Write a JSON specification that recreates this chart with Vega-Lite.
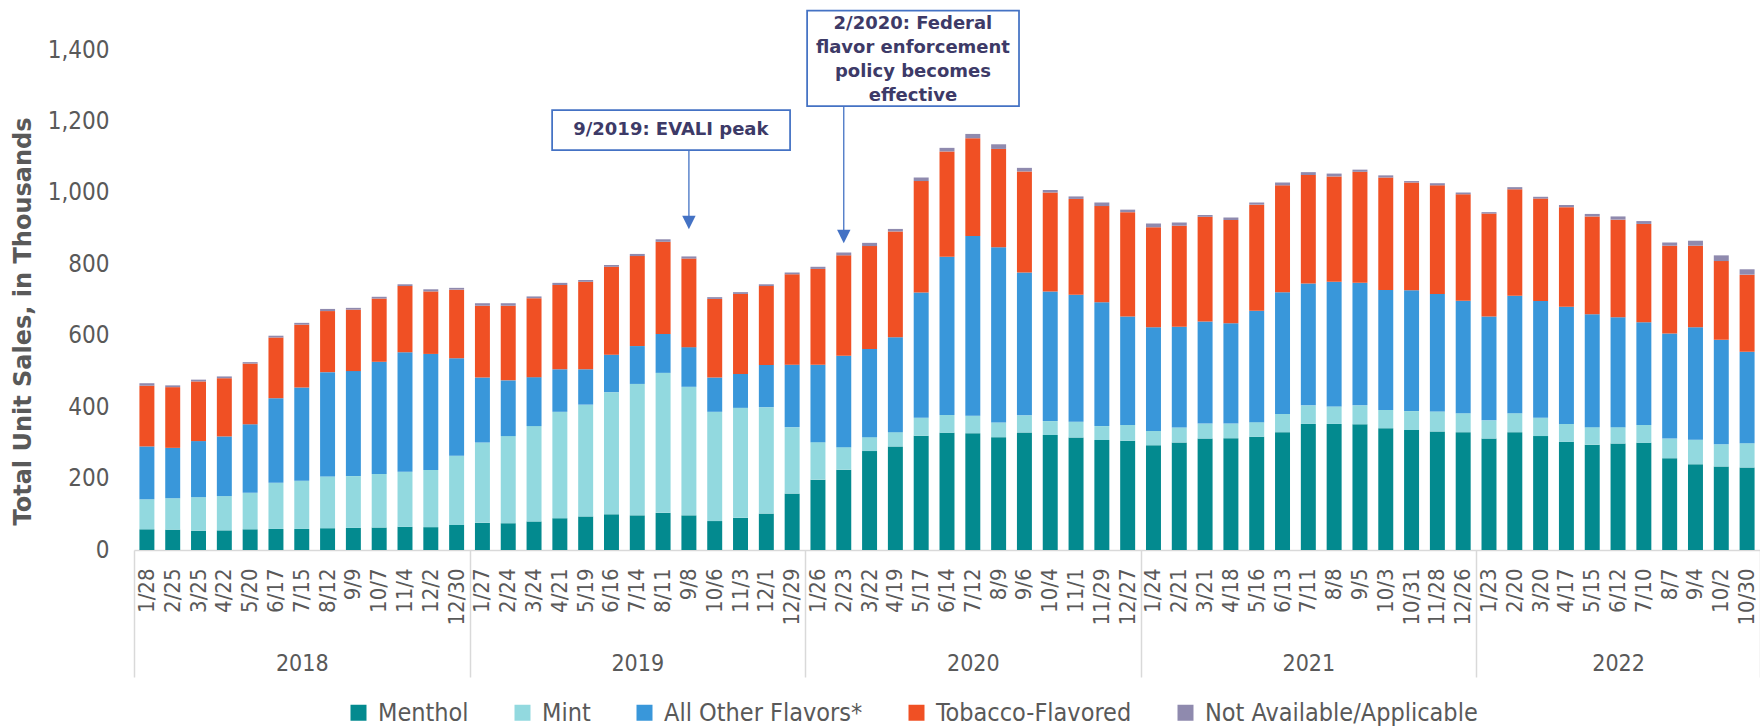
{
  "$schema": "https://vega.github.io/schema/vega-lite/v6.json",
  "width": 1626,
  "height": 500,
  "autosize": {"type": "none"},
  "padding": {"left": 134, "top": 50, "right": 0, "bottom": 178},
  "background": "white",
  "config": {"view": {"stroke": null}, "font": "DejaVu Sans Condensed", "axis": {"grid": false}},
  "datasets": {
    "sales": [
      {"date":"2018-01-28","menthol":58,"mint":84,"other":148,"tobacco":170,"na":7},
      {"date":"2018-02-25","menthol":57,"mint":88,"other":141,"tobacco":170,"na":5},
      {"date":"2018-03-25","menthol":54,"mint":94,"other":157,"tobacco":167,"na":5},
      {"date":"2018-04-22","menthol":55,"mint":96,"other":167,"tobacco":163,"na":5},
      {"date":"2018-05-20","menthol":58,"mint":102,"other":192,"tobacco":170,"na":4},
      {"date":"2018-06-17","menthol":59,"mint":129,"other":237,"tobacco":170,"na":5},
      {"date":"2018-07-15","menthol":59,"mint":135,"other":261,"tobacco":176,"na":5},
      {"date":"2018-08-12","menthol":61,"mint":145,"other":292,"tobacco":171,"na":6},
      {"date":"2018-09-09","menthol":62,"mint":145,"other":294,"tobacco":172,"na":5},
      {"date":"2018-10-07","menthol":63,"mint":150,"other":314,"tobacco":177,"na":5},
      {"date":"2018-11-04","menthol":65,"mint":154,"other":335,"tobacco":185,"na":5},
      {"date":"2018-12-02","menthol":64,"mint":160,"other":325,"tobacco":175,"na":6},
      {"date":"2018-12-30","menthol":70,"mint":194,"other":273,"tobacco":192,"na":5},
      {"date":"2019-01-27","menthol":76,"mint":225,"other":182,"tobacco":201,"na":7},
      {"date":"2019-02-24","menthol":75,"mint":244,"other":156,"tobacco":209,"na":7},
      {"date":"2019-03-24","menthol":80,"mint":267,"other":137,"tobacco":221,"na":5},
      {"date":"2019-04-21","menthol":89,"mint":298,"other":119,"tobacco":236,"na":6},
      {"date":"2019-05-19","menthol":94,"mint":313,"other":99,"tobacco":245,"na":5},
      {"date":"2019-06-16","menthol":100,"mint":342,"other":105,"tobacco":246,"na":5},
      {"date":"2019-07-14","menthol":97,"mint":368,"other":106,"tobacco":252,"na":6},
      {"date":"2019-08-11","menthol":104,"mint":392,"other":109,"tobacco":258,"na":7},
      {"date":"2019-09-08","menthol":97,"mint":360,"other":111,"tobacco":248,"na":6},
      {"date":"2019-10-06","menthol":81,"mint":306,"other":96,"tobacco":220,"na":5},
      {"date":"2019-11-03","menthol":90,"mint":308,"other":95,"tobacco":224,"na":5},
      {"date":"2019-12-01","menthol":102,"mint":298,"other":118,"tobacco":221,"na":5},
      {"date":"2019-12-29","menthol":158,"mint":186,"other":175,"tobacco":253,"na":5},
      {"date":"2020-01-26","menthol":197,"mint":105,"other":217,"tobacco":268,"na":6},
      {"date":"2020-02-23","menthol":225,"mint":63,"other":256,"tobacco":281,"na":8},
      {"date":"2020-03-22","menthol":277,"mint":39,"other":247,"tobacco":288,"na":9},
      {"date":"2020-04-19","menthol":290,"mint":40,"other":266,"tobacco":296,"na":7},
      {"date":"2020-05-17","menthol":320,"mint":50,"other":351,"tobacco":312,"na":10},
      {"date":"2020-06-14","menthol":328,"mint":50,"other":443,"tobacco":295,"na":10},
      {"date":"2020-07-12","menthol":327,"mint":49,"other":503,"tobacco":274,"na":12},
      {"date":"2020-08-09","menthol":316,"mint":41,"other":491,"tobacco":275,"na":13},
      {"date":"2020-09-06","menthol":329,"mint":48,"other":400,"tobacco":283,"na":10},
      {"date":"2020-10-04","menthol":322,"mint":39,"other":363,"tobacco":277,"na":7},
      {"date":"2020-11-01","menthol":315,"mint":44,"other":356,"tobacco":268,"na":7},
      {"date":"2020-11-29","menthol":308,"mint":39,"other":347,"tobacco":269,"na":10},
      {"date":"2020-12-27","menthol":306,"mint":44,"other":304,"tobacco":292,"na":7},
      {"date":"2021-01-24","menthol":293,"mint":40,"other":291,"tobacco":280,"na":10},
      {"date":"2021-02-21","menthol":301,"mint":42,"other":282,"tobacco":283,"na":9},
      {"date":"2021-03-21","menthol":312,"mint":42,"other":286,"tobacco":293,"na":5},
      {"date":"2021-04-18","menthol":313,"mint":41,"other":281,"tobacco":289,"na":7},
      {"date":"2021-05-16","menthol":317,"mint":41,"other":312,"tobacco":297,"na":6},
      {"date":"2021-06-13","menthol":330,"mint":51,"other":341,"tobacco":299,"na":8},
      {"date":"2021-07-11","menthol":353,"mint":52,"other":341,"tobacco":304,"na":8},
      {"date":"2021-08-08","menthol":353,"mint":49,"other":349,"tobacco":295,"na":8},
      {"date":"2021-09-05","menthol":352,"mint":53,"other":343,"tobacco":311,"na":6},
      {"date":"2021-10-03","menthol":341,"mint":51,"other":336,"tobacco":315,"na":6},
      {"date":"2021-10-31","menthol":336,"mint":53,"other":338,"tobacco":302,"na":4},
      {"date":"2021-11-28","menthol":332,"mint":56,"other":329,"tobacco":304,"na":6},
      {"date":"2021-12-26","menthol":330,"mint":53,"other":315,"tobacco":298,"na":5},
      {"date":"2022-01-23","menthol":312,"mint":51,"other":291,"tobacco":288,"na":4},
      {"date":"2022-02-20","menthol":330,"mint":53,"other":329,"tobacco":298,"na":6},
      {"date":"2022-03-20","menthol":319,"mint":51,"other":327,"tobacco":287,"na":5},
      {"date":"2022-04-17","menthol":303,"mint":50,"other":328,"tobacco":279,"na":6},
      {"date":"2022-05-15","menthol":295,"mint":49,"other":316,"tobacco":274,"na":7},
      {"date":"2022-06-12","menthol":298,"mint":46,"other":308,"tobacco":273,"na":9},
      {"date":"2022-07-10","menthol":300,"mint":50,"other":288,"tobacco":275,"na":8},
      {"date":"2022-08-07","menthol":257,"mint":55,"other":294,"tobacco":246,"na":9},
      {"date":"2022-09-04","menthol":240,"mint":69,"other":315,"tobacco":228,"na":14},
      {"date":"2022-10-02","menthol":234,"mint":62,"other":293,"tobacco":220,"na":16},
      {"date":"2022-10-30","menthol":231,"mint":68,"other":256,"tobacco":216,"na":15}
    ],
    "flavors": [
      {"key":"menthol","name":"Menthol","o":1},
      {"key":"mint","name":"Mint","o":2},
      {"key":"other","name":"All Other Flavors*","o":3},
      {"key":"tobacco","name":"Tobacco-Flavored","o":4},
      {"key":"na","name":"Not Available/Applicable","o":5}
    ]
  },
  "layer": [
    {
      "data": {"name": "sales"},
      "transform": [
        {"fold": ["menthol","mint","other","tobacco","na"], "as": ["key","value"]},
        {"lookup": "key", "from": {"data": {"name": "flavors"}, "key": "key", "fields": ["name","o"]}}
      ],
      "mark": {"type": "bar"},
      "encoding": {
        "x": {
          "field": "date", "type": "ordinal", "sort": null,
          "scale": {"paddingInner": 0.42, "paddingOuter": 0.21},
          "axis": {
            "orient": "bottom", "title": null,
            "labelExpr": "toNumber(substring(datum.value,5,7)) + '/' + toNumber(substring(datum.value,8,10))",
            "labelAngle": 270, "labelAlign": "right", "labelBaseline": "middle",
            "labelFontSize": 22, "labelColor": "#595959", "labelPadding": 18,
            "ticks": false, "domainColor": "#D9D9D9", "domainWidth": 1.5,
            "labelOverlap": false, "labelBound": false
          }
        },
        "y": {
          "field": "value", "type": "quantitative", "stack": "zero",
          "title": "Total Unit Sales, in Thousands",
          "scale": {"domain": [0, 1400], "nice": false},
          "axis": {
            "values": [0,200,400,600,800,1000,1200,1400],
            "labelExpr": "format(datum.value, ',')",
            "domain": false, "ticks": false, "grid": false,
            "labelFontSize": 24, "labelColor": "#595959", "labelPadding": 25,
            "titleFont": "DejaVu Sans", "titleFontSize": 24, "titleFontWeight": "bold",
            "titleColor": "#595959", "titleAngle": 270, "titleX": -111, "titleY": 271,
            "titleAlign": "center", "titleBaseline": "middle"
          }
        },
        "color": {
          "field": "name", "type": "nominal",
          "scale": {
            "domain": ["Menthol","Mint","All Other Flavors*","Tobacco-Flavored","Not Available/Applicable"],
            "range": ["#038A8F","#92D9DF","#3997DA","#F05024","#8F8AAE"]
          },
          "legend": {
            "orient": "none", "legendX": 212, "legendY": 650, "direction": "horizontal",
            "title": null, "symbolType": "square", "symbolSize": 256, "symbolStrokeWidth": 0,
            "symbolOpacity": 1, "labelFontSize": 25, "labelColor": "#595959", "labelOffset": 7,
            "columnPadding": 41, "padding": 0, "labelLimit": 400
          }
        },
        "order": {"field": "o", "type": "quantitative"}
      }
    },
    {
      "data": {"values": [
        {"x1": 16.2, "x2": 25.42, "y1": 1120, "y2": 1232},
        {"x1": 26.08, "x2": 34.29, "y1": 1243, "y2": 1510}
      ]},
      "mark": {"type": "rect", "fill": "white", "stroke": "#4472C4", "strokeWidth": 1.75},
      "encoding": {
        "x": {
          "field": "x1", "type": "quantitative",
          "scale": {"domain": [0, 63], "nice": false, "zero": false},
          "axis": {
            "orient": "bottom", "title": null, "values": [0,13,26,39,52,63],
            "labels": false, "domain": false, "grid": false, "ticks": true,
            "tickSize": 127, "tickColor": "#D9D9D9", "tickWidth": 1.5
          }
        },
        "x2": {"field": "x2"},
        "y": {"field": "y1", "type": "quantitative", "title": "Total Unit Sales, in Thousands", "scale": {"domain": [0, 1400], "nice": false}},
        "y2": {"field": "y2"}
      }
    },
    {
      "data": {"values": [
        {"x": 21.5, "y1": 1120, "y2": 935},
        {"x": 27.5, "y1": 1243, "y2": 896}
      ]},
      "mark": {"type": "rule", "color": "#4472C4", "strokeWidth": 1.3},
      "encoding": {
        "x": {
          "field": "x", "type": "quantitative",
          "scale": {"domain": [0, 63], "nice": false, "zero": false},
          "axis": {
            "orient": "bottom", "title": null, "values": [6.5,19.5,32.5,45.5,57.5],
            "labelExpr": "datum.value < 13 ? '2018' : datum.value < 26 ? '2019' : datum.value < 39 ? '2020' : datum.value < 52 ? '2021' : '2022'",
            "ticks": false, "domain": false, "grid": false,
            "labelPadding": 113, "labelBaseline": "middle", "labelAlign": "center",
            "labelFontSize": 23, "labelColor": "#595959", "labelFlush": false, "labelOverlap": false
          }
        },
        "y": {"field": "y1", "type": "quantitative", "title": "Total Unit Sales, in Thousands", "scale": {"domain": [0, 1400], "nice": false}},
        "y2": {"field": "y2"}
      }
    },
    {
      "data": {"values": [
        {"x": 21.5, "y": 917},
        {"x": 27.5, "y": 878}
      ]},
      "mark": {"type": "point", "shape": "M-1,-1L1,-1L0,1Z", "size": 180, "filled": true, "color": "#4472C4", "opacity": 1},
      "encoding": {
        "x": {"field": "x", "type": "quantitative", "scale": {"domain": [0, 63], "nice": false, "zero": false}, "axis": null},
        "y": {"field": "y", "type": "quantitative", "title": "Total Unit Sales, in Thousands", "scale": {"domain": [0, 1400], "nice": false}}
      }
    },
    {
      "data": {"values": [
        {"x": 20.8, "y": 1176, "label": "9/2019: EVALI peak"},
        {"x": 30.18, "y": 1473, "label": "2/2020: Federal\nflavor enforcement\npolicy becomes\neffective"}
      ]},
      "mark": {"type": "text", "font": "DejaVu Sans", "fontWeight": "bold", "fontSize": 18, "color": "#3D3A67", "lineBreak": "\n", "lineHeight": 24, "align": "center", "baseline": "middle"},
      "encoding": {
        "x": {"field": "x", "type": "quantitative", "scale": {"domain": [0, 63], "nice": false, "zero": false}, "axis": null},
        "y": {"field": "y", "type": "quantitative", "title": "Total Unit Sales, in Thousands", "scale": {"domain": [0, 1400], "nice": false}},
        "text": {"field": "label"}
      }
    }
  ],
  "resolve": {"scale": {"x": "independent"}}
}
